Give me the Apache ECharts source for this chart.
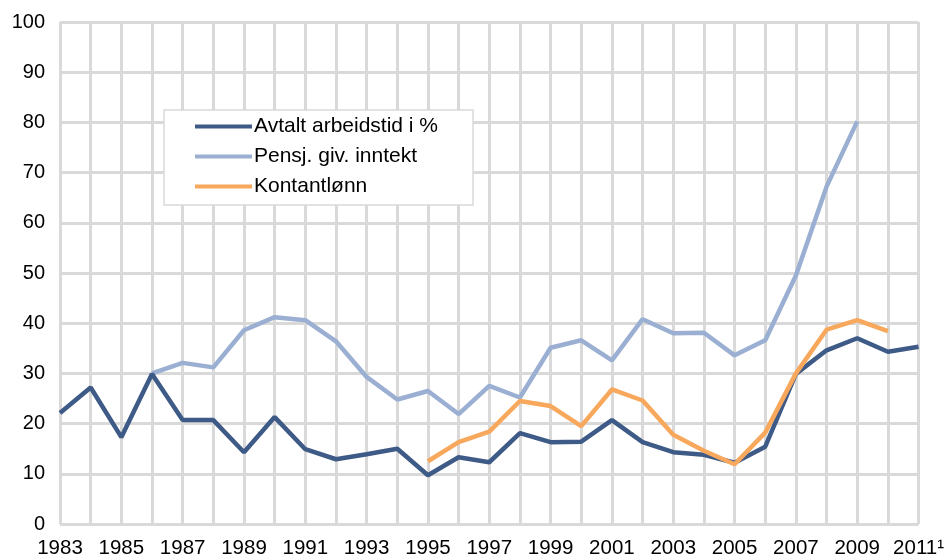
<!DOCTYPE html>
<html lang="no">
<head>
    <meta charset="utf-8">
    <meta name="viewport" content="width=device-width, initial-scale=1"/>
</head>
<body style="margin:0; background:#fff;">
<div id="chart" style="width:947px; height:559px;"></div>
<script type="text/javascript" src="https://cdn.jsdelivr.net/npm/echarts@6/dist/echarts.min.js"></script>
<script type="text/javascript">

    // år 1983 - 2011
    var years = ['1983', '1984', '1985', '1986', '1987', '1988', '1989', '1990', '1991', '1992',
        '1993', '1994', '1995', '1996', '1997', '1998', '1999', '2000', '2001', '2002',
        '2003', '2004', '2005', '2006', '2007', '2008', '2009', '2010', '2011'];

    var avtaltArbeidstid = [22.1, 27.2, 17.3, 29.9, 20.7, 20.7, 14.3, 21.3, 14.9, 12.9,
        13.9, 15.0, 9.7, 13.3, 12.3, 18.1, 16.3, 16.4, 20.7, 16.3,
        14.3, 13.8, 12.2, 15.4, 29.9, 34.6, 37.0, 34.3, 35.3];

    var pensjGivInntekt = [null, null, null, 30.0, 32.1, 31.2, 38.6, 41.2, 40.6, 36.4,
        29.3, 24.8, 26.5, 21.9, 27.5, 25.2, 35.1, 36.6, 32.6, 40.8,
        38.0, 38.1, 33.6, 36.6, 49.5, 67.2, 80.2, null, null];

    var kontantlonn = [null, null, null, null, null, null, null, null, null, null,
        null, null, 12.5, 16.3, 18.4, 24.5, 23.5, 19.5, 26.8, 24.6,
        17.8, 14.6, 11.9, 18.2, 30.0, 38.7, 40.6, 38.4, null];

    var gridColor = '#d9d9d9';
    var fontFamily = 'Liberation Sans';

    var option = {
        backgroundColor: '#fff',
        animation: false,
        textStyle: { fontFamily: fontFamily },
        grid: {
            left: 60,
            right: 24,
            top: 22,
            bottom: 34
        },
        legend: {
            orient: 'vertical',
            left: 164,
            top: 110,
            backgroundColor: '#fff',
            borderColor: '#d9d9d9',
            borderWidth: 1.5,
            borderRadius: 0,
            padding: [6, 35, 8, 31],
            icon: 'rect',
            itemWidth: 57,
            itemHeight: 4,
            itemGap: 9,
            textStyle: {
                color: '#000',
                fontSize: 21,
                fontFamily: fontFamily,
                padding: [0, 0, 0, -3]
            },
            data: ['Avtalt arbeidstid i %', 'Pensj. giv. inntekt', 'Kontantlønn']
        },
        xAxis: {
            type: 'category',
            data: years,
            boundaryGap: false,
            axisLine: { show: false },
            axisTick: { show: false },
            axisLabel: {
                interval: 1,
                color: '#000',
                fontSize: 20.5,
                margin: 14,
                fontFamily: fontFamily,
                formatter: function (val) {
                    if (val === '2011') {
                        return val + '¹';
                    }
                    return val;
                }
            },
            splitLine: {
                show: true,
                interval: 0,
                lineStyle: { color: gridColor, width: 3 }
            }
        },
        yAxis: {
            type: 'value',
            min: 0,
            max: 100,
            interval: 10,
            axisLine: { show: false },
            axisTick: { show: false },
            axisLabel: {
                color: '#000',
                fontSize: 20,
                margin: 15,
                fontFamily: fontFamily
            },
            splitLine: {
                lineStyle: { color: gridColor, width: 3 }
            }
        },
        series: [
            {
                name: 'Avtalt arbeidstid i %',
                type: 'line',
                data: avtaltArbeidstid,
                symbol: 'none',
                z: 3,
                lineStyle: { color: '#3e5a86', width: 4.5 },
                itemStyle: { color: '#3e5a86' }
            },
            {
                name: 'Pensj. giv. inntekt',
                type: 'line',
                data: pensjGivInntekt,
                symbol: 'none',
                z: 2,
                lineStyle: { color: '#9aafd2', width: 4.5 },
                itemStyle: { color: '#9aafd2' }
            },
            {
                name: 'Kontantlønn',
                type: 'line',
                data: kontantlonn,
                symbol: 'none',
                z: 4,
                lineStyle: { color: '#f8a85c', width: 4.5 },
                itemStyle: { color: '#f8a85c' }
            }
        ]
    };

    var myChart = echarts.init(document.getElementById('chart'));
    myChart.setOption(option);

</script>
</body>
</html>
